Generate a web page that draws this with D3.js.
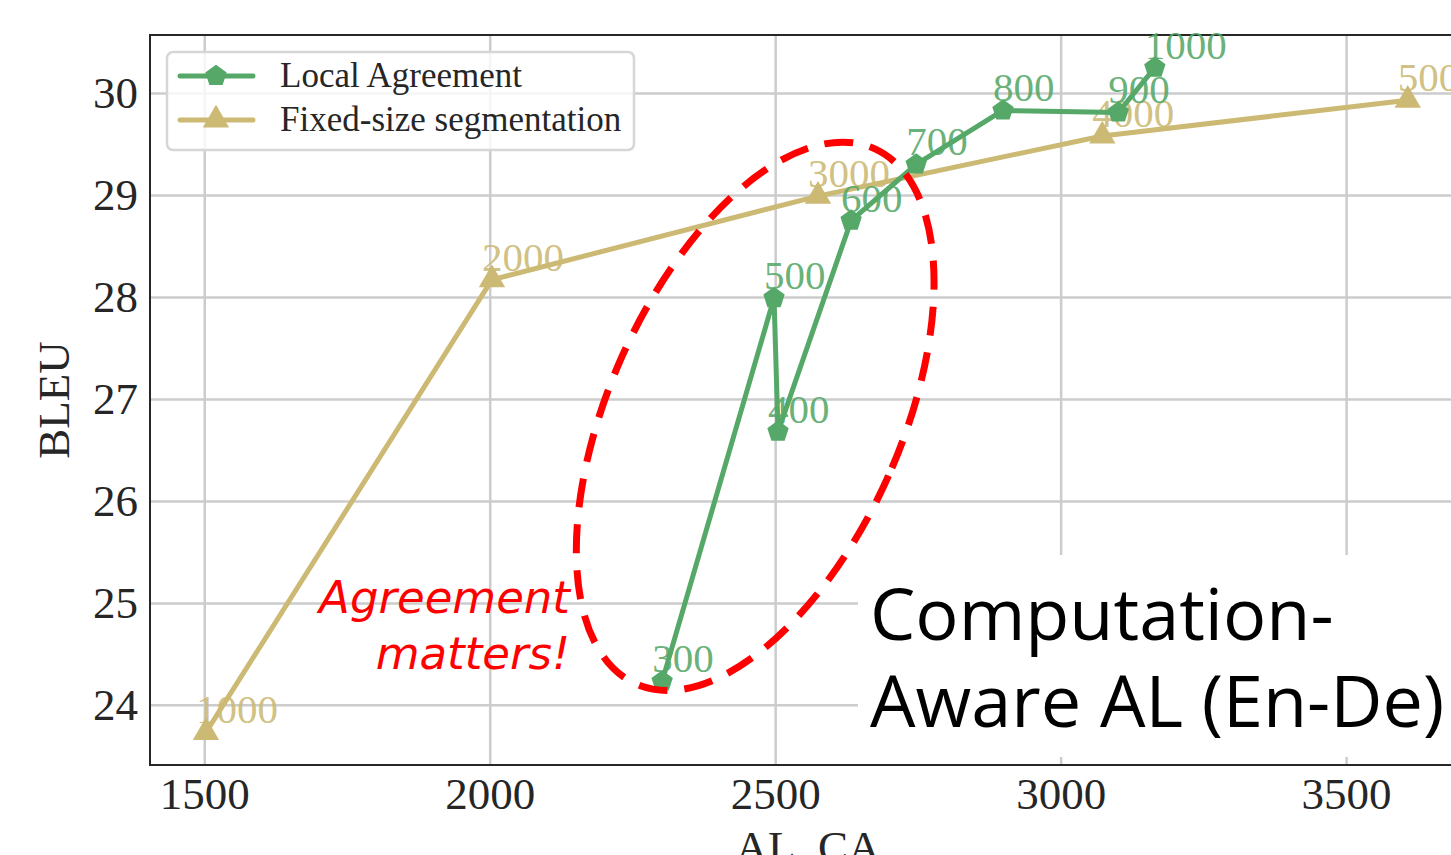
<!DOCTYPE html>
<html>
<head>
<meta charset="utf-8">
<script src="https://cdn.jsdelivr.net/npm/d3@7"></script>
<style>
  body { margin: 0; background: #fff; }
  svg { display: block; }
</style>
</head>
<body>
<div id="chart"></div>
<script>
// Data
const laLabels = [300, 500, 400, 600, 700, 800, 900, 1000];
const laAL = [2302, 2498, 2505, 2633, 2747, 2899, 3101, 3165];
const laBLEU = [24.23, 27.99, 26.68, 28.75, 29.30, 29.83, 29.81, 30.25];

const fsLabels = [1000, 2000, 3000, 4000, 5000];
const fsAL = [1503, 2004, 2575, 3073, 3608];
const fsBLEU = [23.73, 28.17, 28.99, 29.58, 29.93];

const xTicks = [1500, 2000, 2500, 3000, 3500];
const yTicks = [24, 25, 26, 27, 28, 29, 30];

const W = 1451, H = 855;
const margin = { left: 150, top: 35, right: 1466, bottom: 765 };
const serif = "'Liberation Serif', 'Times New Roman', serif";
const green = "#55a868", tan = "#ccb974";

const svg = d3.select("#chart").append("svg")
    .attr("width", W).attr("height", H);

// Scales
const x = d3.scaleLinear().domain([1405, 3710]).range([margin.left, margin.right]);
const y = d3.scaleLinear().domain([23.41, 30.57]).range([margin.bottom, margin.top]);

// Grid + tick labels
svg.append("g")
    .attr("transform", "translate(0," + margin.bottom + ")")
    .call(d3.axisBottom(x).tickValues(xTicks).tickSize(-(margin.bottom - margin.top)).tickFormat(d => d).tickPadding(12))
    .call(g => g.select(".domain").remove())
    .call(g => g.selectAll("line").attr("stroke", "#cccccc").attr("stroke-width", 2.5))
    .call(g => g.selectAll("text").attr("font-family", serif).attr("font-size", 45).attr("fill", "#262626"));

svg.append("g")
    .attr("transform", "translate(" + margin.left + ",0)")
    .call(d3.axisLeft(y).tickValues(yTicks).tickSize(-(margin.right - margin.left)).tickFormat(d => d).tickPadding(12))
    .call(g => g.select(".domain").remove())
    .call(g => g.selectAll("line").attr("stroke", "#cccccc").attr("stroke-width", 2.5))
    .call(g => g.selectAll("text").attr("font-family", serif).attr("font-size", 45).attr("fill", "#262626"));

// Spines
svg.append("rect")
    .attr("x", margin.left).attr("y", margin.top)
    .attr("width", margin.right - margin.left).attr("height", margin.bottom - margin.top)
    .attr("fill", "none").attr("stroke", "#262626").attr("stroke-width", 2);

// Axis titles
svg.append("text")
    .attr("x", (margin.left + margin.right) / 2).attr("y", 862)
    .attr("text-anchor", "middle")
    .attr("font-family", serif).attr("font-size", 45).attr("fill", "#262626")
    .text("AL, CA");

svg.append("text")
    .attr("transform", "translate(69," + (margin.top + margin.bottom) / 2 + ") rotate(-90)")
    .attr("text-anchor", "middle")
    .attr("font-family", serif).attr("font-size", 45).attr("fill", "#262626")
    .text("BLEU");

// pentagon marker
const pentagon = {
    draw(ctx, size) {
        const r = Math.sqrt(size / 2.3776);
        for (let i = 0; i < 5; i++) {
            const a = -Math.PI / 2 + i * 2 * Math.PI / 5;
            if (i === 0) ctx.moveTo(r * Math.cos(a), r * Math.sin(a));
            else ctx.lineTo(r * Math.cos(a), r * Math.sin(a));
        }
        ctx.closePath();
    }
};

const line = d3.line().x(d => x(d.al)).y(d => y(d.bleu));

function drawSeries(labels, al, bleu, color, symbolType, size) {
    const data = labels.map((l, i) => ({ label: l, al: al[i], bleu: bleu[i] }));
    svg.append("path").datum(data)
        .attr("d", line)
        .attr("fill", "none").attr("stroke", color)
        .attr("stroke-width", 5).attr("stroke-linejoin", "round");
    svg.selectAll(null).data(data).enter().append("path")
        .attr("transform", d => "translate(" + x(d.al) + "," + y(d.bleu) + ")")
        .attr("d", d3.symbol().type(symbolType).size(size))
        .attr("fill", color);
    svg.selectAll(null).data(data).enter().append("text")
        .attr("x", d => x(d.al) - 10).attr("y", d => y(d.bleu) - 9)
        .attr("font-family", serif).attr("font-size", 41)
        .attr("fill", color).attr("fill-opacity", 0.9)
        .text(d => d.label);
}

drawSeries(fsLabels, fsAL, fsBLEU, tan, d3.symbolTriangle, 300);
drawSeries(laLabels, laAL, laBLEU, green, pentagon, 300);

// Red dashed ellipse
const ell = { al: 2465, bleu: 26.83, rx: 146, ry: 293, angle: 24 };
svg.append("ellipse")
    .attr("transform", "translate(" + x(ell.al) + "," + y(ell.bleu) + ") rotate(" + ell.angle + ")")
    .attr("rx", ell.rx).attr("ry", ell.ry)
    .attr("fill", "none").attr("stroke", "#ff0000")
    .attr("stroke-width", 7).attr("stroke-dasharray", "29,17");

// "Agreement matters!"
const am = svg.append("text")
    .attr("text-anchor", "end")
    .attr("font-family", "'DejaVu Sans', sans-serif").attr("font-style", "italic")
    .attr("font-size", 45).attr("fill", "#ff0000");
am.append("tspan").attr("x", 570).attr("y", 613).text("Agreement");
am.append("tspan").attr("x", 570).attr("y", 669).text("matters!");

// Title box
svg.append("rect")
    .attr("x", 858).attr("y", 555).attr("width", W - 858).attr("height", 202)
    .attr("fill", "#fff");
const tt = svg.append("text")
    .attr("font-family", "'Open Sans', sans-serif")
    .attr("font-size", 72).attr("fill", "#000");
tt.append("tspan").attr("x", 870).attr("y", 640).text("Computation-");
tt.append("tspan").attr("x", 870).attr("y", 727).text("Aware AL (En-De)");

// Legend
const lg = svg.append("g");
lg.append("rect")
    .attr("x", 167).attr("y", 52).attr("width", 467).attr("height", 98).attr("rx", 6)
    .attr("fill", "#fff").attr("fill-opacity", 0.8)
    .attr("stroke", "#d6d6d6").attr("stroke-width", 2.5);
const legendItems = [
    { name: "Local Agreement", color: green, sym: pentagon, y: 76 },
    { name: "Fixed-size segmentation", color: tan, sym: d3.symbolTriangle, y: 120 }
];
legendItems.forEach(it => {
    lg.append("line").attr("x1", 180).attr("x2", 253).attr("y1", it.y).attr("y2", it.y)
        .attr("stroke", it.color).attr("stroke-width", 5).attr("stroke-linecap", "round");
    lg.append("path").attr("transform", "translate(216," + it.y + ")")
        .attr("d", d3.symbol().type(it.sym).size(300)).attr("fill", it.color);
    lg.append("text").attr("x", 280).attr("y", it.y + 11)
        .attr("font-family", serif).attr("font-size", 35).attr("fill", "#262626")
        .text(it.name);
});
</script>
</body>
</html>
